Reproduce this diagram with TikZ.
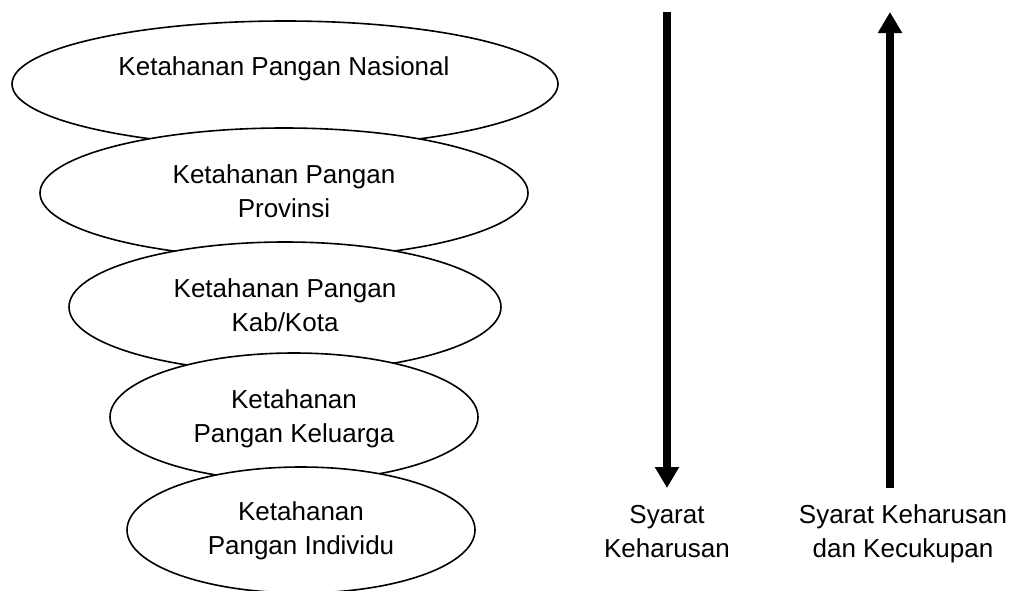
\documentclass[tikz,border=0pt]{standalone}
\usepackage{fontspec}
\setmainfont{Liberation Sans}
\usetikzlibrary{shapes.geometric,arrows.meta}
\tikzset{
  ell/.style={ellipse, draw=black, line width=1.6pt, fill=white, inner sep=0pt, outer sep=0pt},
  txt/.style={anchor=base, align=center, inner sep=0pt, font=\fontsize{26}{33.5}\selectfont},
  bigarrow/.style={line width=8pt, -{Triangle[width=23pt,length=21pt]}}
}
\begin{document}
\begin{tikzpicture}[x=1pt,y=-1pt]
\useasboundingbox (0,0) rectangle (1013,590);
\fill[white] (0,0) rectangle (1013,590);
% ellipses, top to bottom, each covering the one above
\node[ell, minimum width=546pt, minimum height=126pt] (e1) at (285,84) {};
\node[txt] (t1) at (284,75) {Ketahanan Pangan Nasional};
\node[ell, minimum width=488pt, minimum height=130pt] (e2) at (284,193) {};
\node[txt] (t2) at (284,217) {Ketahanan Pangan\\Provinsi};
\node[ell, minimum width=432pt, minimum height=130pt] (e3) at (285,307) {};
\node[txt] (t3) at (285,331) {Ketahanan Pangan\\Kab/Kota};
\node[ell, minimum width=368pt, minimum height=128pt] (e4) at (294,417) {};
\node[txt] (t4) at (294,442) {Ketahanan\\Pangan Keluarga};
\node[ell, minimum width=348pt, minimum height=126pt] (e5) at (301,530) {};
\node[txt] (t5) at (301,554) {Ketahanan\\Pangan Individu};
% arrows
\coordinate (a1s) at (667,12);
\coordinate (a1e) at (667,488);
\draw[bigarrow] (a1s) -- (a1e);
\coordinate (a2s) at (890,488);
\coordinate (a2e) at (890,12);
\draw[bigarrow] (a2s) -- (a2e);
% labels
\node[txt] (l1) at (667,557) {Syarat\\Keharusan};
\node[txt] (l2) at (903,557) {Syarat Keharusan\\dan Kecukupan};
\end{tikzpicture}
\end{document}
